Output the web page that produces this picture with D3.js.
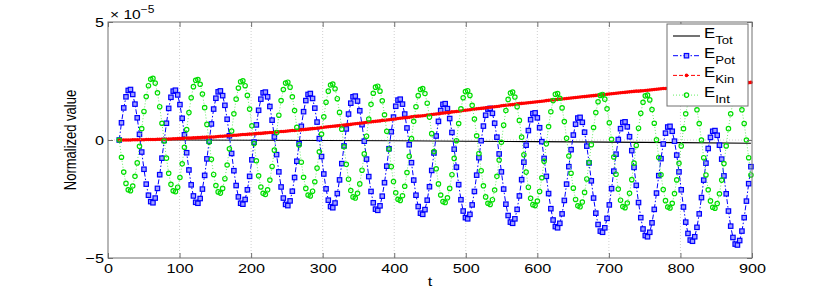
<!DOCTYPE html>
<html>
<head>
<meta charset="utf-8">
<script src="https://cdn.jsdelivr.net/npm/d3@7"></script>
<style>
  body { margin: 0; background: #fff; }
  text { font-family: "Liberation Sans", Arial, sans-serif; fill: #000; }
</style>
</head>
<body>
<svg id="chart"></svg>
<script>
// values in units of 1e-5, sampled every pi time units starting at t = 5*pi
const tStart = 5 * Math.PI;
const tStep = Math.PI;

const ePot = [
  0.00,0.73,1.36,1.83,2.10,2.14,1.93,1.52,0.94,0.24,-0.51,-1.24,-1.87,-2.34,-2.61,-2.66,-2.46,-2.05,-1.47,-0.77,
  -0.02,0.71,1.34,1.81,2.07,2.11,1.91,1.50,0.92,0.22,-0.54,-1.27,-1.90,-2.37,-2.64,-2.68,-2.48,-2.08,-1.50,-0.80,
  -0.05,0.68,1.31,1.77,2.04,2.08,1.88,1.47,0.88,0.18,-0.57,-1.30,-1.93,-2.41,-2.68,-2.72,-2.52,-2.11,-1.54,-0.84,
  -0.09,0.64,1.26,1.73,2.00,2.03,1.83,1.42,0.84,0.13,-0.62,-1.35,-1.99,-2.46,-2.73,-2.78,-2.58,-2.17,-1.59,-0.90,
  -0.15,0.58,1.20,1.67,1.93,1.97,1.76,1.35,0.76,0.06,-0.70,-1.44,-2.07,-2.55,-2.82,-2.87,-2.67,-2.27,-1.69,-1.00,
  -0.25,0.47,1.10,1.56,1.83,1.86,1.65,1.24,0.65,-0.05,-0.81,-1.55,-2.18,-2.66,-2.93,-2.98,-2.79,-2.38,-1.81,-1.11,
  -0.37,0.35,0.97,1.43,1.69,1.73,1.52,1.10,0.51,-0.20,-0.96,-1.70,-2.34,-2.82,-3.10,-3.15,-2.95,-2.55,-1.98,-1.29,
  -0.55,0.17,0.79,1.25,1.51,1.54,1.33,0.91,0.32,-0.39,-1.15,-1.89,-2.53,-3.01,-3.29,-3.34,-3.15,-2.75,-2.18,-1.49,
  -0.75,-0.03,0.59,1.05,1.31,1.34,1.13,0.71,0.12,-0.59,-1.35,-2.08,-2.72,-3.20,-3.48,-3.53,-3.34,-2.94,-2.37,-1.68,
  -0.94,-0.22,0.40,0.86,1.12,1.15,0.94,0.52,-0.07,-0.78,-1.54,-2.27,-2.91,-3.39,-3.67,-3.72,-3.53,-3.13,-2.56,-1.87,
  -1.13,-0.41,0.21,0.67,0.93,0.96,0.75,0.33,-0.26,-0.97,-1.73,-2.46,-3.10,-3.58,-3.86,-3.91,-3.72,-3.32,-2.75,-2.06,
  -1.32,-0.60,0.02,0.48,0.74,0.77,0.56,0.14,-0.45,-1.16,-1.92,-2.65,-3.29,-3.77,-4.05,-4.10,-3.91,-3.51,-2.94,-2.25,
  -1.51,-0.79,-0.17,0.29,0.55,0.58,0.37,-0.05,-0.64,-1.35,-2.11,-2.84,-3.48,-3.96,-4.24,-4.29,-4.10,-3.70,-3.13,-2.44,
  -1.70,-0.98,-0.36,0.11,0.37,0.40,0.20,-0.22,-0.81,-1.52,-2.28,-3.01,-3.65,-4.13,-4.41,-4.45,-4.26,-3.86,-3.29,-2.59,
  -1.85,-1.13
];

const eKin = [
  0.00,0.00,0.00,0.00,0.00,0.00,0.01,0.01,0.01,0.01,0.01,0.01,0.02,0.02,0.02,0.02,0.02,0.03,0.03,0.03,
  0.03,0.03,0.04,0.04,0.05,0.05,0.06,0.06,0.07,0.07,0.08,0.08,0.08,0.09,0.09,0.10,0.10,0.11,0.11,0.12,
  0.12,0.13,0.13,0.14,0.15,0.16,0.16,0.17,0.18,0.18,0.19,0.20,0.20,0.21,0.22,0.23,0.23,0.24,0.25,0.25,
  0.26,0.27,0.28,0.28,0.29,0.30,0.31,0.32,0.32,0.33,0.34,0.35,0.36,0.36,0.37,0.38,0.39,0.40,0.40,0.41,
  0.42,0.43,0.44,0.45,0.46,0.47,0.48,0.49,0.50,0.51,0.53,0.54,0.55,0.56,0.57,0.58,0.59,0.60,0.61,0.62,
  0.63,0.64,0.65,0.66,0.68,0.69,0.70,0.71,0.72,0.73,0.75,0.76,0.77,0.78,0.79,0.80,0.81,0.83,0.84,0.85,
  0.86,0.87,0.88,0.89,0.91,0.92,0.93,0.94,0.95,0.96,0.98,0.99,1.00,1.01,1.02,1.03,1.04,1.06,1.07,1.08,
  1.09,1.10,1.11,1.13,1.14,1.15,1.16,1.17,1.19,1.20,1.21,1.22,1.23,1.25,1.26,1.27,1.28,1.29,1.31,1.32,
  1.33,1.34,1.35,1.36,1.38,1.39,1.40,1.41,1.42,1.43,1.45,1.46,1.47,1.48,1.49,1.50,1.51,1.53,1.54,1.55,
  1.56,1.57,1.58,1.59,1.60,1.61,1.62,1.63,1.64,1.65,1.67,1.68,1.69,1.70,1.71,1.72,1.73,1.74,1.75,1.76,
  1.77,1.78,1.79,1.80,1.81,1.82,1.83,1.84,1.85,1.86,1.87,1.88,1.89,1.90,1.91,1.92,1.93,1.94,1.95,1.96,
  1.97,1.98,1.99,2.00,2.01,2.02,2.03,2.04,2.05,2.06,2.07,2.07,2.08,2.09,2.10,2.11,2.12,2.13,2.14,2.15,
  2.16,2.17,2.18,2.18,2.19,2.20,2.21,2.21,2.22,2.23,2.24,2.24,2.25,2.26,2.27,2.27,2.28,2.29,2.30,2.30,
  2.31,2.32,2.32,2.33,2.33,2.34,2.35,2.35,2.36,2.36,2.37,2.38,2.38,2.39,2.39,2.40,2.41,2.41,2.42,2.42,
  2.43,2.44
];

const eInt = [
  0.00,-0.73,-1.36,-1.84,-2.11,-2.15,-1.95,-1.54,-0.97,-0.27,0.48,1.21,1.84,2.30,2.57,2.61,2.41,2.00,1.41,0.71,
  -0.04,-0.77,-1.41,-1.88,-2.15,-2.19,-2.00,-1.59,-1.01,-0.31,0.44,1.16,1.79,2.26,2.53,2.56,2.36,1.95,1.37,0.66,
  -0.09,-0.82,-1.46,-1.93,-2.20,-2.25,-2.05,-1.64,-1.06,-0.37,0.38,1.11,1.73,2.20,2.47,2.51,2.30,1.89,1.31,0.60,
  -0.15,-0.88,-1.52,-1.99,-2.26,-2.31,-2.11,-1.70,-1.12,-0.43,0.32,1.05,1.67,2.14,2.41,2.45,2.24,1.83,1.25,0.54,
  -0.21,-0.94,-1.58,-2.05,-2.33,-2.37,-2.17,-1.77,-1.19,-0.50,0.25,0.98,1.60,2.07,2.33,2.37,2.17,1.75,1.17,0.46,
  -0.29,-1.03,-1.66,-2.14,-2.41,-2.46,-2.26,-1.86,-1.28,-0.59,0.16,0.89,1.51,1.98,2.24,2.28,2.07,1.66,1.07,0.37,
  -0.39,-1.13,-1.76,-2.24,-2.51,-2.56,-2.36,-1.96,-1.38,-0.69,0.06,0.79,1.41,1.88,2.14,2.18,1.97,1.56,0.97,0.27,
  -0.49,-1.22,-1.86,-2.33,-2.61,-2.65,-2.45,-2.05,-1.47,-0.78,-0.03,0.70,1.32,1.79,2.05,2.09,1.89,1.47,0.89,0.18,
  -0.57,-1.30,-1.94,-2.41,-2.68,-2.73,-2.53,-2.12,-1.54,-0.85,-0.10,0.63,1.25,1.72,1.99,2.03,1.82,1.41,0.83,0.12,
  -0.63,-1.36,-2.00,-2.47,-2.74,-2.78,-2.59,-2.18,-1.60,-0.90,-0.16,0.57,1.20,1.67,1.94,1.97,1.77,1.36,0.78,0.07,
  -0.68,-1.41,-2.04,-2.52,-2.79,-2.83,-2.63,-2.22,-1.65,-0.95,-0.20,0.53,1.16,1.62,1.89,1.93,1.73,1.32,0.73,0.03,
  -0.72,-1.45,-2.08,-2.55,-2.82,-2.87,-2.67,-2.26,-1.68,-0.98,-0.23,0.50,1.13,1.60,1.87,1.90,1.70,1.29,0.71,0.01,
  -0.74,-1.47,-2.10,-2.57,-2.84,-2.88,-2.68,-2.27,-1.69,-0.99,-0.25,0.48,1.11,1.58,1.85,1.89,1.69,1.28,0.70,0.00,
  -0.75,-1.48,-2.11,-2.58,-2.85,-2.89,-2.69,-2.28,-1.70,-1.00,-0.25,0.48,1.11,1.58,1.85,1.89,1.69,1.28,0.70,0.00,
  -0.75,-1.48
];

// total energy drawn as plain line, fewer samples
const tTot = [15.7, 100, 200, 300, 400, 500, 600, 700, 800, 898.5];
const eTot = [0, 0, -0.01, -0.02, -0.03, -0.05, -0.07, -0.09, -0.11, -0.14];

const xTicks = [0, 100, 200, 300, 400, 500, 600, 700, 800, 900];
const yTicks = [-5, 0, 5];

const tVals = d3.range(ePot.length).map(k => tStart + k * tStep);

let width = 830, height = 291;
let margin = {top: 22, right: 78, bottom: 33, left: 108};
let sx = 1.2; // text looks horizontally stretched in the original

let svg = d3.select("#chart")
    .attr("width", width)
    .attr("height", height);

let x = d3.scaleLinear().domain([0, 900]).range([margin.left, width - margin.right]);
let y = d3.scaleLinear().domain([-5, 5]).range([height - margin.bottom, margin.top]);

// grid
svg.append("g").selectAll("line")
    .data(xTicks.slice(1, -1))
    .join("line")
    .attr("x1", d => x(d)).attr("x2", d => x(d))
    .attr("y1", y(5)).attr("y2", y(-5))
    .attr("stroke", "#c4c4c4")
    .attr("stroke-width", 0.8)
    .attr("stroke-dasharray", "1,2");

svg.append("line")
    .attr("x1", x(0)).attr("x2", x(900))
    .attr("y1", y(0)).attr("y2", y(0))
    .attr("stroke", "#c4c4c4")
    .attr("stroke-width", 0.8)
    .attr("stroke-dasharray", "1,2");

let line = d3.line().x(d => x(d[0])).y(d => y(d[1]));

let pts = arr => arr.map((v, i) => [tVals[i], v]);

// E_Tot
svg.append("path")
    .datum(tTot.map((t, i) => [t, eTot[i]]))
    .attr("d", line)
    .attr("fill", "none")
    .attr("stroke", "#000")
    .attr("stroke-width", 1.1);

// E_Pot
svg.append("path")
    .datum(pts(ePot))
    .attr("d", line)
    .attr("fill", "none")
    .attr("stroke", "#0000ff")
    .attr("stroke-width", 1)
    .attr("stroke-dasharray", "5,2,1.5,2");

svg.append("g").selectAll("rect")
    .data(pts(ePot))
    .join("rect")
    .attr("x", d => x(d[0]) - 2.2)
    .attr("y", d => y(d[1]) - 2.2)
    .attr("width", 4.4)
    .attr("height", 4.4)
    .attr("fill", "#a0a0ff")
    .attr("stroke", "#0000ff")
    .attr("stroke-width", 1.2);

// E_Kin
svg.append("path")
    .datum(pts(eKin))
    .attr("d", line)
    .attr("fill", "none")
    .attr("stroke", "#ff0000")
    .attr("stroke-width", 1.2)
    .attr("stroke-dasharray", "4,2");

svg.append("g").selectAll("circle")
    .data(pts(eKin))
    .join("circle")
    .attr("cx", d => x(d[0]))
    .attr("cy", d => y(d[1]))
    .attr("r", 1.8)
    .attr("fill", "#ff0000");

// E_Int
svg.append("path")
    .datum(pts(eInt))
    .attr("d", line)
    .attr("fill", "none")
    .attr("stroke", "#66ee66")
    .attr("stroke-width", 1)
    .attr("stroke-dasharray", "1,2");

svg.append("g").selectAll("circle")
    .data(pts(eInt))
    .join("circle")
    .attr("cx", d => x(d[0]))
    .attr("cy", d => y(d[1]))
    .attr("r", 2.2)
    .attr("fill", "none")
    .attr("stroke", "#00dd00")
    .attr("stroke-width", 1.2);

// axes box
let axisColor = "#707070";
svg.append("rect")
    .attr("x", x(0)).attr("y", y(5))
    .attr("width", x(900) - x(0))
    .attr("height", y(-5) - y(5))
    .attr("fill", "none")
    .attr("stroke", axisColor)
    .attr("stroke-width", 1);

let styleAxis = g => {
    g.select(".domain").remove();
    g.selectAll("line").attr("stroke", axisColor);
    g.selectAll("text")
        .attr("font-size", 13.5)
        .attr("font-family", "'Liberation Sans', Arial, sans-serif");
};

svg.append("g")
    .attr("transform", "translate(0," + y(-5) + ")")
    .call(d3.axisBottom(x).tickValues(xTicks).tickSizeInner(-5).tickSizeOuter(0).tickPadding(5))
    .call(styleAxis)
    .selectAll("text").attr("transform", "scale(" + sx + ",1)");

svg.append("g")
    .attr("transform", "translate(0," + y(5) + ")")
    .call(d3.axisTop(x).tickValues(xTicks).tickSizeInner(-5).tickSizeOuter(0).tickFormat(""))
    .call(styleAxis);

svg.append("g")
    .attr("transform", "translate(" + x(0) + ",0)")
    .call(d3.axisLeft(y).tickValues(yTicks).tickSizeInner(-5).tickSizeOuter(0).tickPadding(4).tickFormat(d3.format("d")))
    .call(styleAxis)
    .selectAll("text").attr("transform", "scale(" + sx + ",1)").attr("x", -4 / sx);

svg.append("g")
    .attr("transform", "translate(" + x(900) + ",0)")
    .call(d3.axisRight(y).tickValues(yTicks).tickSizeInner(-5).tickSizeOuter(0).tickFormat(""))
    .call(styleAxis);

// exponent label
let expo = svg.append("text")
    .attr("transform", "translate(" + (x(0) + 2) + "," + (y(5) - 3) + ") scale(" + sx + ",1)")
    .attr("font-size", 13);
expo.append("tspan").text("\u00d7 10");
expo.append("tspan").attr("dy", -6).attr("font-size", 10).text("\u22125");

// axis titles
svg.append("text")
    .attr("transform", "translate(" + ((x(0) + x(900)) / 2) + "," + (height - 5) + ") scale(" + sx + ",1)")
    .attr("text-anchor", "middle")
    .attr("font-size", 13.5)
    .text("t");

svg.append("text")
    .attr("transform", "translate(76," + y(0) + ") scale(" + sx + ",1) rotate(-90)")
    .attr("text-anchor", "middle")
    .attr("font-size", 13)
    .text("Normalized value");

// legend
let legend = svg.append("g");
let lx = 667, ly = 24;
legend.append("rect")
    .attr("x", lx).attr("y", ly)
    .attr("width", 81).attr("height", 82)
    .attr("fill", "#fff")
    .attr("stroke", axisColor)
    .attr("stroke-width", 1);

let items = [
    {name: "Tot", color: "#000", dash: null, mark: null},
    {name: "Pot", color: "#0000ff", dash: "5,2,1.5,2", mark: "square"},
    {name: "Kin", color: "#ff0000", dash: "4,2", mark: "dot"},
    {name: "Int", color: "#66ee66", dash: "1,2", mark: "circle"}
];

items.forEach((it, i) => {
    let yy = ly + 12 + i * 19.7;
    legend.append("line")
        .attr("x1", lx + 6).attr("x2", lx + 33)
        .attr("y1", yy).attr("y2", yy)
        .attr("stroke", it.color)
        .attr("stroke-width", it.mark ? 1 : 1.1)
        .attr("stroke-dasharray", it.dash);
    let mx = lx + 19.5;
    if (it.mark == "square") {
        legend.append("rect")
            .attr("x", mx - 2.2).attr("y", yy - 2.2).attr("width", 4.4).attr("height", 4.4)
            .attr("fill", "#a0a0ff").attr("stroke", "#0000ff").attr("stroke-width", 1.2);
    } else if (it.mark == "dot") {
        legend.append("circle").attr("cx", mx).attr("cy", yy).attr("r", 1.8).attr("fill", "#ff0000");
    } else if (it.mark == "circle") {
        legend.append("circle").attr("cx", mx).attr("cy", yy).attr("r", 2.2)
            .attr("fill", "none").attr("stroke", "#00dd00").attr("stroke-width", 1.2);
    }
    let tx = legend.append("text")
        .attr("transform", "translate(" + (lx + 37) + "," + (yy + 2) + ") scale(" + sx + ",1)")
        .attr("font-size", 14);
    tx.append("tspan").text("E");
    tx.append("tspan").attr("dy", 6).attr("font-size", 11).text(it.name);
});
</script>
</body>
</html>
